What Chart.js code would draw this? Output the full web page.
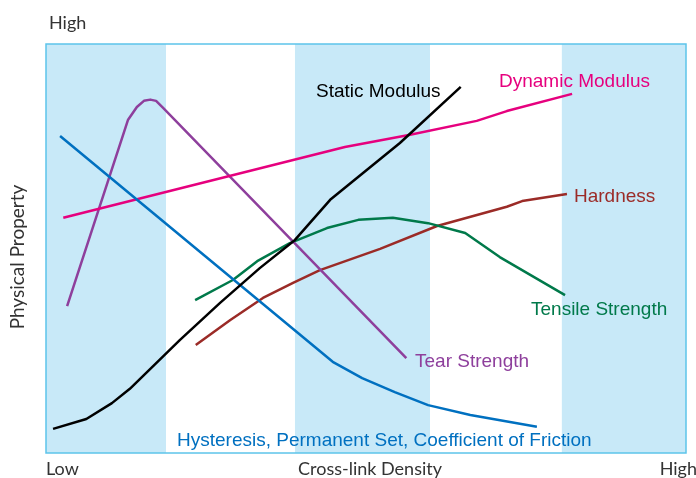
<!DOCTYPE html>
<html>
<head>
<meta charset="utf-8">
<script src="https://cdn.jsdelivr.net/npm/chart.js@4"></script>
<style>
    html, body { margin: 0; padding: 0; background: #fff; }
    #wrap { position: relative; width: 696px; height: 478px; }
</style>
</head>
<body>
<div id="wrap"><canvas id="chart" width="696" height="478"></canvas></div>
<script>
// x = cross-link density (0 = low, 100 = high), y = physical property (0..100)
const staticModulus = [[1.1, 5.9], [6.3, 8.3], [10.3, 12.2], [13.1, 15.7], [20.9, 27.6], [27.2, 36.7], [33.4, 45.2], [38.9, 52.1], [44.4, 61.9], [55.3, 75.8], [64.8, 89.5]];
const hysteresis = [[2.2, 77.5], [44.8, 22.3], [49.4, 18.3], [54.5, 14.9], [59.7, 11.7], [66.3, 9.3], [76.7, 6.4]];
const dynamicModulus = [[2.7, 57.5], [46.7, 74.8], [56.9, 77.8], [67.3, 81.2], [72.0, 83.6], [82.2, 87.8]];
const tearStrength = [[3.3, 35.9], [12.8, 81.4], [14.2, 84.6], [15.3, 86.1], [16.3, 86.4], [17.2, 86.1], [18.3, 84.4], [56.3, 23.2]];
const tensileStrength = [[23.3, 37.4], [29.2, 42.3], [33.0, 46.9], [38.1, 51.3], [43.9, 55.0], [48.8, 57.0], [54.2, 57.5], [59.7, 56.2], [65.5, 53.8], [70.9, 47.9], [81.1, 38.6]];
const hardness = [[23.4, 26.4], [28.8, 32.5], [33.9, 37.9], [38.6, 41.6], [42.8, 44.7], [52.2, 49.9], [61.1, 55.5], [72.0, 60.2], [74.4, 61.6], [81.4, 63.3]];

// shaded density bands (x ranges)
const bands = [[0, 18.75], [38.9, 60], [80.6, 100]];

const colors = {
    static: '#000000',
    hysteresis: '#0070c0',
    dynamic: '#e6007e',
    tear: '#8e3f9c',
    tensile: '#00794a',
    hardness: '#9b2b27',
    band: '#c8e9f8',
    frame: '#5cc4ea',
    axisText: '#333333',
};

function toPoints(pairs) {
    return pairs.map(([x, y]) => ({ x, y }));
}

function lineSet(label, pairs, color) {
    return {
        label,
        data: toPoints(pairs),
        borderColor: color,
        backgroundColor: color,
        borderWidth: 2.5,
        pointRadius: 0,
        showLine: true,
        tension: 0,
        borderJoinStyle: 'round',
        borderCapStyle: 'butt',
    };
}

const bandsPlugin = {
    id: 'bands',
    beforeDatasetsDraw(chart) {
        const { ctx, chartArea: a, scales: { x } } = chart;
        ctx.save();
        ctx.fillStyle = colors.band;
        bands.forEach(([from, to]) => {
            const x0 = x.getPixelForValue(from);
            const x1 = x.getPixelForValue(to);
            ctx.fillRect(x0, a.top, x1 - x0, a.bottom - a.top);
        });
        ctx.restore();
    },
    afterDatasetsDraw(chart) {
        const { ctx, chartArea: a } = chart;
        ctx.save();
        ctx.strokeStyle = colors.frame;
        ctx.lineWidth = 1.5;
        ctx.strokeRect(a.left, a.top, a.right - a.left, a.bottom - a.top);
        ctx.restore();
    },
};

const textPlugin = {
    id: 'texts',
    afterDraw(chart) {
        const { ctx } = chart;
        ctx.save();
        ctx.textBaseline = 'alphabetic';

        // series labels
        ctx.font = '19px "Liberation Sans", Arial, sans-serif';
        const labels = [
            ['Static Modulus', 316, 97, colors.static],
            ['Dynamic Modulus', 499, 87, colors.dynamic],
            ['Hardness', 574, 202, colors.hardness],
            ['Tensile Strength', 531, 315, colors.tensile],
            ['Tear Strength', 415, 367, colors.tear],
            ['Hysteresis, Permanent Set, Coefficient of Friction', 177, 446, colors.hysteresis],
        ];
        labels.forEach(([text, x, y, color]) => {
            ctx.fillStyle = color;
            ctx.fillText(text, x, y);
        });

        // axis texts
        ctx.fillStyle = colors.axisText;
        ctx.font = '18px Lato, sans-serif';
        ctx.textAlign = 'left';
        ctx.fillText('High', 49, 29);
        ctx.fillText('Low', 46, 475);
        ctx.textAlign = 'center';
        ctx.fillText('Cross-link Density', 370, 475);
        ctx.textAlign = 'right';
        ctx.fillText('High', 697, 475);

        ctx.font = '19px Lato, sans-serif';
        ctx.translate(24, 257);
        ctx.rotate(-Math.PI / 2);
        ctx.textAlign = 'center';
        ctx.fillText('Physical Property', 0, 0);
        ctx.restore();
    },
};

new Chart(document.getElementById('chart'), {
    type: 'scatter',
    data: {
        datasets: [
            lineSet('Static Modulus', staticModulus, colors.static),
            lineSet('Hysteresis, Permanent Set, Coefficient of Friction', hysteresis, colors.hysteresis),
            lineSet('Dynamic Modulus', dynamicModulus, colors.dynamic),
            lineSet('Tear Strength', tearStrength, colors.tear),
            lineSet('Tensile Strength', tensileStrength, colors.tensile),
            lineSet('Hardness', hardness, colors.hardness),
        ],
    },
    options: {
        responsive: false,
        animation: false,
        layout: { padding: { left: 46, right: 10, top: 44, bottom: 25 } },
        plugins: { legend: { display: false }, tooltip: { enabled: false } },
        scales: {
            x: { type: 'linear', min: 0, max: 100, display: false },
            y: { type: 'linear', min: 0, max: 100, display: false },
        },
    },
    plugins: [bandsPlugin, textPlugin],
});
</script>
</body>
</html>
